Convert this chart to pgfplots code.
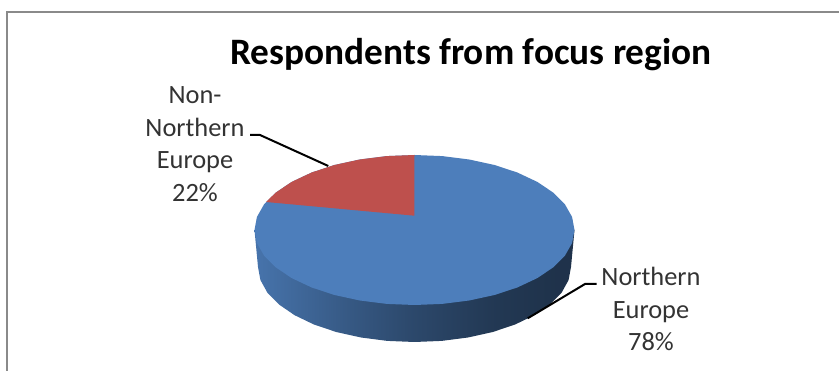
\documentclass[border=0pt]{standalone}
\usepackage{pgfplots}
\pgfplotsset{compat=1.18}
\usepackage{fontspec}
\setmainfont{Carlito}
\definecolor{pieblue}{HTML}{4D7EBB}
\definecolor{piered}{HTML}{BE504D}
\definecolor{framegrey}{HTML}{8A8A8A}
\definecolor{labelgrey}{HTML}{333333}
\pgfdeclarehorizontalshading{pieside}{100bp}{
  color(0bp)=(pieblue!92!black);
  color(25bp)=(pieblue!92!black);
  color(40bp)=(pieblue!70!black);
  color(50bp)=(pieblue!57!black);
  color(62bp)=(pieblue!45!black);
  color(72bp)=(pieblue!40!black);
  color(100bp)=(pieblue!40!black)}
\begin{document}
\begin{tikzpicture}
\useasboundingbox (0,0) rectangle (839pt,371pt);
\begin{axis}[
  scale only axis, width=839pt, height=371pt,
  xmin=0, xmax=839, ymin=0, ymax=371, y dir=reverse,
  hide axis, clip=true,
]
% chart frame
\addplot[framegrey, line width=2pt] coordinates {(6.5,371) (6.5,12.5) (839,12.5)};
% wall of the pie
\addplot[draw=none, shading=pieside] coordinates {
  (254.5,230) (258,267) (260.4,280) (267.4,292.7) (279,304.5) (294.6,315.2)
  (313.9,324.5) (336.2,332) (361,337.5) (387.3,340.9) (414.5,342) (441.7,340.9)
  (468,337.5) (492.8,332) (515.1,324.5) (534.4,315.2) (550,304.5) (561.6,292.7)
  (568.6,280) (571,267) (574.5,230)} -- cycle;
% Northern Europe, 78%: the whole top face, with the other slice laid over it
\addplot[draw=none, fill=pieblue] coordinates {
  (574.5,230) (572.1,217) (564.9,204.3) (553.1,192.5) (537.1,181.8) (517.3,172.5)
  (494.5,165) (469.2,159.5) (442.3,156.1) (414.5,155) (386.7,156.1) (359.8,159.5)
  (334.5,165) (311.7,172.5) (291.9,181.8) (275.9,192.5) (264.1,204.3) (256.9,217)
  (254.5,230) (256.9,243) (264.1,255.7) (275.9,267.5) (291.9,278.2) (311.7,287.5)
  (334.5,295) (359.8,300.5) (386.7,303.9) (414.5,305) (442.3,303.9) (469.2,300.5)
  (494.5,295) (517.3,287.5) (537.1,278.2) (553.1,267.5) (564.9,255.7) (572.1,243)} -- cycle;
% Non-Northern Europe, 22%
\addplot[draw=none, fill=piered] coordinates {
  (414.3,215.7) (266,202) (275.9,192.5) (291.9,181.8) (311.7,172.5) (334.5,165)
  (359.8,159.5) (386.7,156.1) (414.5,155)} -- cycle;
% leader lines
\addplot[black, line width=2pt] coordinates {(250,135) (260,135) (328.3,166)};
\addplot[black, line width=2pt] coordinates {(596.7,284) (585,284) (527.7,318.3)};
% title and slice labels
\node[font=\fontsize{37.3}{42}\selectfont\bfseries, black, anchor=center] at (axis cs:471,55) {Respondents from focus region};
\node[font=\fontsize{26.4}{32.5}\selectfont, labelgrey, align=center, anchor=center] at (axis cs:195,144) {Non-\\Northern\\Europe\\22\%};
\node[font=\fontsize{26.4}{32.5}\selectfont, labelgrey, align=center, anchor=center] at (axis cs:651,309) {Northern\\Europe\\78\%};
\end{axis}
\end{tikzpicture}
\end{document}
